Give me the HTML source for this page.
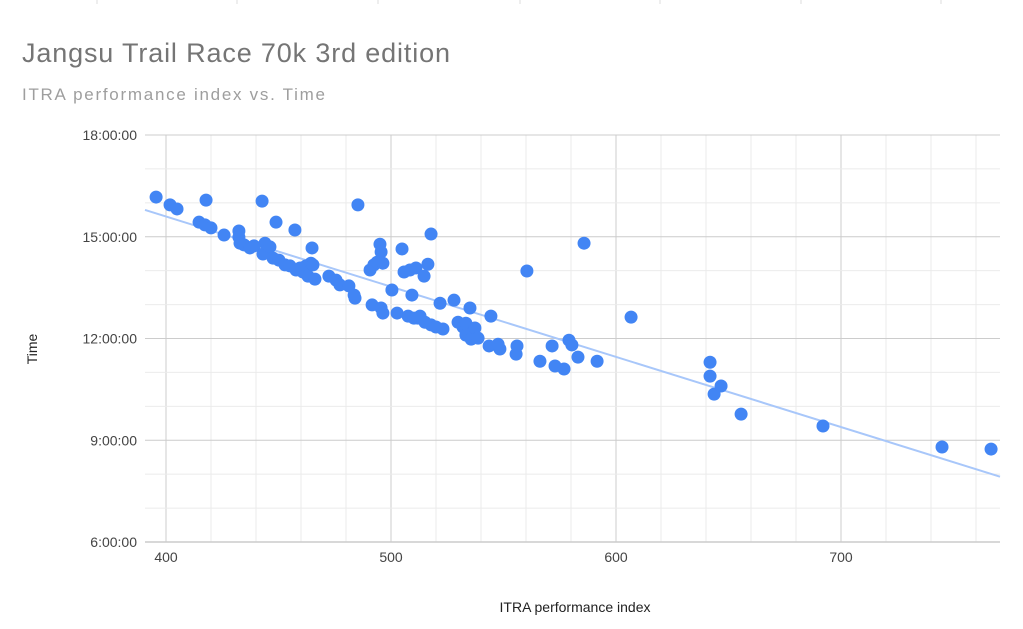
<!DOCTYPE html>
<html><head><meta charset="utf-8"><style>
body{margin:0;background:#fff;font-family:"Liberation Sans",sans-serif}
svg{display:block}
</style></head><body>
<svg id="chart" width="1023" height="629">
<text x="22" y="62" font-size="27" fill="#757575" textLength="428">Jangsu Trail Race 70k 3rd edition</text>
<text x="22" y="100" font-size="17" fill="#9e9e9e" textLength="303">ITRA performance index vs. Time</text>
<g id="grid"></g><g id="trend"></g><g id="dots"></g><g id="labels"></g>
<text x="575" y="612" font-size="14" fill="#222" text-anchor="middle">ITRA performance index</text>
<text x="0" y="0" font-size="14" fill="#222" text-anchor="middle" transform="translate(37,349) rotate(-90)">Time</text>
</svg>
<script>
const itra=[395.6,401.8,404.9,417.8,414.7,417.3,420.0,425.8,432.4,432.4,432.9,434.7,437.3,439.1,442.7,443.1,444.0,446.2,448.9,447.6,450.2,452.9,455.1,457.3,457.8,459.6,460.9,462.2,463.1,464.4,464.9,465.3,466.2,472.4,475.6,477.3,481.3,483.6,484.0,485.3,490.7,492.4,493.8,495.1,495.6,496.4,491.6,495.6,496.4,500.4,502.7,504.9,505.8,507.6,508.4,509.3,510.2,511.1,512.0,512.9,514.7,516.4,517.8,515.1,517.8,520.0,521.8,523.1,528.0,529.8,532.0,533.3,535.1,533.3,535.6,537.3,538.7,544.4,543.6,548.4,547.6,555.6,556.0,560.4,566.2,571.6,572.9,576.9,579.1,580.4,583.1,585.8,591.6,606.7,641.8,641.8,643.6,646.7,655.6,692.0,744.9,766.7];
const hours=[16.17,15.94,15.82,16.08,15.43,15.35,15.26,15.05,15.17,14.99,14.81,14.76,14.67,14.73,16.05,14.49,14.81,14.70,15.43,14.37,14.31,14.17,14.14,15.20,14.02,14.08,13.96,14.14,13.84,14.22,14.67,14.17,13.75,13.84,13.72,13.58,13.55,13.28,13.19,15.94,14.02,14.17,14.25,14.78,14.55,14.22,12.99,12.90,12.75,13.43,12.75,14.64,13.96,12.66,14.02,13.28,12.60,14.08,12.60,12.66,13.84,14.19,15.08,12.48,12.40,12.34,13.04,12.28,13.13,12.48,12.34,12.45,12.90,12.10,11.98,12.31,12.01,12.66,11.78,11.69,11.83,11.54,11.78,13.99,11.33,11.78,11.19,11.10,11.95,11.81,11.45,14.81,11.33,12.63,11.30,10.89,10.36,10.60,9.77,9.42,8.80,8.74];
const xTicks=[400,500,600,700];
const yTicks=[18,15,12,9,6];
const yTickLabels=["18:00:00","15:00:00","12:00:00","9:00:00","6:00:00"];
const NS="http://www.w3.org/2000/svg";
const L=145,R=1000,T=135,B=542;
const xs=v=>166+(v-400)*2.25;
const ys=h=>T+(18-h)*(B-T)/12;
function mk(tag,attrs,parent){const e=document.createElementNS(NS,tag);for(const k in attrs)e.setAttribute(k,attrs[k]);parent.appendChild(e);return e;}
const grid=document.getElementById('grid'),labels=document.getElementById('labels');
[97,237,378,520,660,801,941].forEach(x=>{const t=mk('line',{x1:x,x2:x,y1:0,y2:4,stroke:'#ddd'},grid);

});
for(let v=380;v<=780;v+=20){const x=xs(v);if(x<L||x>R)continue;const major=v%100===0;
const g=mk('line',{x1:x,x2:x,y1:T,y2:B,stroke:major?'#ccc':'#ebebeb','stroke-width':1},grid);

}
for(let h=6;h<=18;h+=1){const y=ys(h);const major=h%3===0;
const g=mk('line',{x1:L,x2:R,y1:y,y2:y,stroke:major?'#ccc':'#ebebeb','stroke-width':1},grid);

}
const ax=mk('line',{x1:L,x2:R,y1:B,y2:B,stroke:'#ccc','stroke-width':1.5},grid);


xTicks.forEach(v=>{const t=mk('text',{x:xs(v),y:562,'font-size':14,fill:'#444','text-anchor':'middle'},labels);t.textContent=v;

});
yTicks.forEach((h,i)=>{const t=mk('text',{x:137,y:ys(h)+5,'font-size':14,fill:'#444','text-anchor':'end'},labels);t.textContent=yTickLabels[i];

});
const n=itra.length;let sx=0,sy=0,sxx=0,sxy=0;
for(let i=0;i<n;i++){sx+=itra[i];sy+=hours[i];sxx+=itra[i]*itra[i];sxy+=itra[i]*hours[i];}
const m=(n*sxy-sx*sy)/(n*sxx-sx*sx),b=(sy-m*sx)/n;
const v0=400+(L-166)/2.25,v1=400+(R-166)/2.25;
const tl=mk('line',{x1:L,y1:ys(m*v0+b),x2:R,y2:ys(m*v1+b),stroke:'#a8c7fa','stroke-width':2},document.getElementById('trend'));


const dots=document.getElementById('dots');
for(let i=0;i<n;i++){const c=mk('circle',{cx:xs(itra[i]),cy:ys(hours[i]),r:6.5,fill:'#4285f4'},dots);

}
</script>
</body></html>
